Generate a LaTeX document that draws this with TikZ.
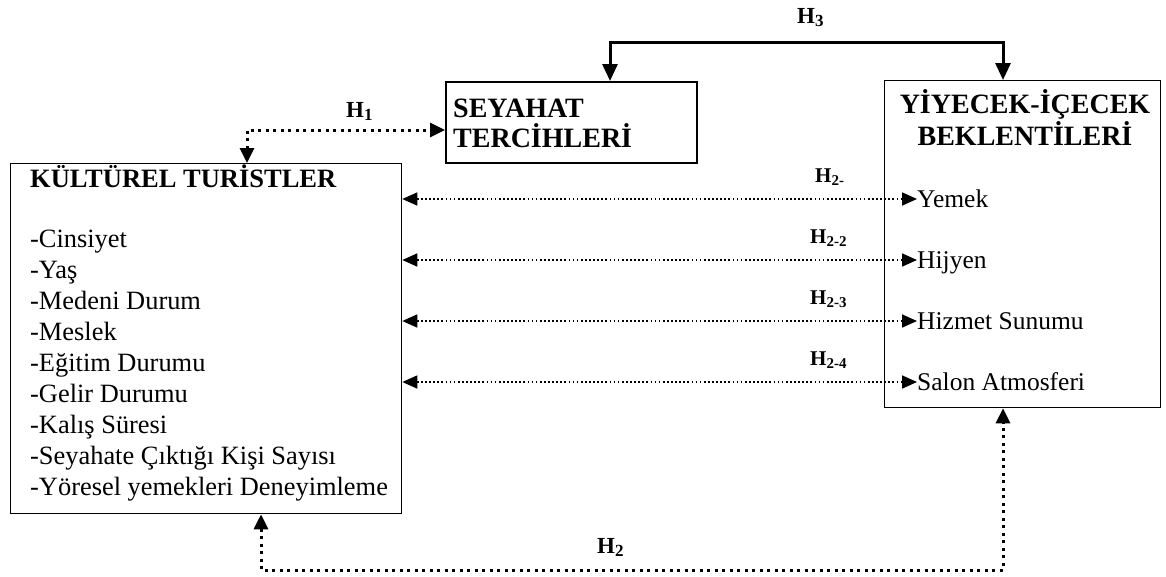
\documentclass[tikz,border=0pt]{standalone}
\usepackage{fontspec}
\setmainfont{Liberation Serif}
\usetikzlibrary{arrows.meta,calc}
% bold hypothesis label: main size, subscript size, subscript text
\newcommand{\hlab}[3]{\fontsize{#1pt}{#1pt}\selectfont H\raisebox{-3.5pt}{\fontsize{#2pt}{#2pt}\selectfont #3}}
\begin{document}
\begin{tikzpicture}[x=1pt,y=-1pt,
  panel/.style={draw=black,rectangle,inner sep=0pt,anchor=north west},
  lbltxt/.style={inner sep=0pt,anchor=base west},
  ktitle/.style={lbltxt,font=\bfseries\fontsize{26.5}{31}\selectfont},
  btitle/.style={inner sep=0pt,font=\bfseries\fontsize{28}{32}\selectfont},
  listtxt/.style={lbltxt,font=\fontsize{26.4}{31}\selectfont},
  itemtxt/.style={lbltxt,font=\fontsize{25.5}{30}\selectfont},
  hyp/.style={lbltxt,font=\bfseries},
  bigtip/.tip={Triangle[length=15pt,width=14pt]},
  smalltip/.tip={Triangle[length=15pt,width=13pt]},
  downtip/.tip={Triangle[length=17pt,width=15pt]},
  thickdots/.style={line width=3pt,dash pattern=on 3.2pt off 4.3pt,bigtip-bigtip},
  finedots/.style={line width=1.7pt,dash pattern=on 1.7pt off 2.4pt,smalltip-smalltip},
  solidlink/.style={line width=3pt,downtip-downtip}
]
\useasboundingbox (0,0) rectangle (1166,576);

% boxes
\node[panel,line width=1.3pt,minimum width=391pt,minimum height=350pt] (kt) at (10,163) {};
\node[panel,line width=2pt,minimum width=251pt,minimum height=81pt] (sy) at (445,81) {};
\node[panel,line width=1.3pt,minimum width=276pt,minimum height=327pt] (yb) at (884,80) {};

% left box: cultural tourists
\node[ktitle] (ktT) at (30,187) {KÜLTÜREL TURİSTLER};
\foreach \t [count=\i] in {-Cinsiyet,-Yaş,-Medeni Durum,-Meslek,-Eğitim Durumu,-Gelir Durumu,-Kalış Süresi,-Seyahate Çıktığı Kişi Sayısı,-Yöresel yemekleri Deneyimleme}
  \node[listtxt] (l\i) at (30,216+31*\i) {\t};

% travel preferences
\node[btitle,anchor=base west] (syA) at (453,117) {SEYAHAT};
\node[btitle,anchor=base west] (syB) at (453,147) {TERCİHLERİ};

% food and beverage expectations
\node[btitle,anchor=base] (ybA) at (1025,113) {YİYECEK-İÇECEK};
\node[btitle,anchor=base] (ybB) at (1025,145) {BEKLENTİLERİ};
\node[itemtxt] (i1) at (917,207) {Yemek};
\node[itemtxt] (i2) at (917,268) {Hijyen};
\node[itemtxt] (i3) at (917,329) {Hizmet Sunumu};
\node[itemtxt] (i4) at (917,390) {Salon Atmosferi};

% sub-hypotheses H2-x
\foreach \k in {1,2,3,4}{
  \coordinate (a\k) at ([yshift=8pt]i\k.base west);
  \draw[finedots] (kt.east |- a\k) -- (a\k);
}
\node[hyp] (h21) at (815,182) {\hlab{21}{15}{2-}};
\node[hyp] (h22) at (810,243) {\hlab{21}{15}{2-2}};
\node[hyp] (h23) at (810,304) {\hlab{21}{15}{2-3}};
\node[hyp] (h24) at (810,365) {\hlab{21}{15}{2-4}};

% H1
\coordinate (h1c) at (247,130);
\draw[thickdots] (kt.north -| h1c) -- (h1c) -- (sy.west |- h1c);
\node[hyp] (h1) at (346,117) {\hlab{23}{17}{1}};

% H2
\coordinate (h2l) at (261,570);
\coordinate (h2r) at (1003,570);
\draw[thickdots] (kt.south -| h2l) -- (h2l) -- (h2r) -- (yb.south -| h2r);
\node[hyp] (h2) at (597,553) {\hlab{23}{17}{2}};

% H3
\coordinate (h3l) at (610,42);
\coordinate (h3r) at (1003,42);
\draw[solidlink] (sy.north -| h3l) -- (h3l) -- (h3r) -- (yb.north -| h3r);
\node[hyp] (h3) at (797,23) {\hlab{23}{17}{3}};
\end{tikzpicture}
\end{document}
